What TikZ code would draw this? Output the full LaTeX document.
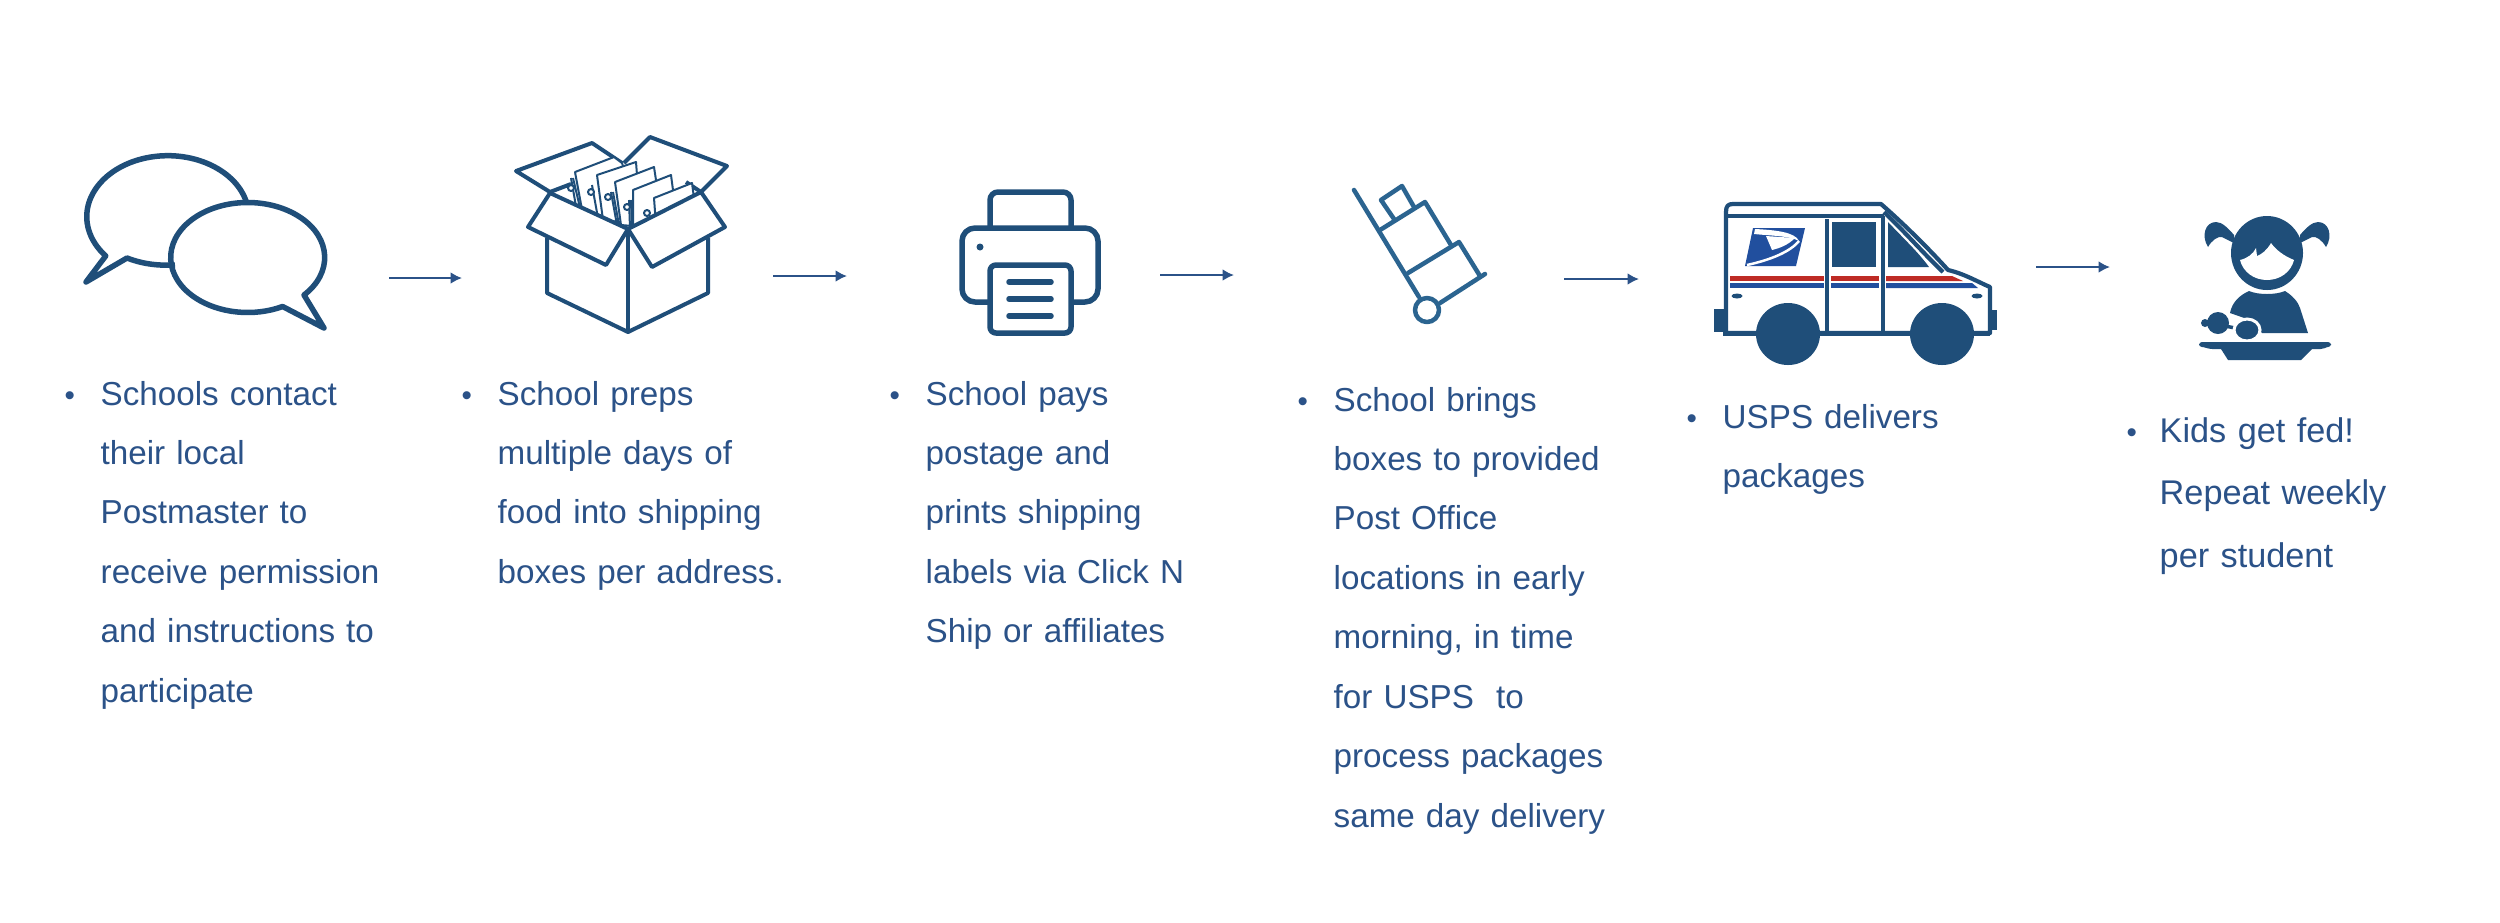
\documentclass[tikz,border=0pt]{standalone}
\usepackage{fontspec}
\setmainfont{Liberation Sans}
\usetikzlibrary{arrows.meta}
\definecolor{iconblue}{HTML}{1F4E79}
\definecolor{truckblue}{HTML}{2B6490}
\definecolor{textblue}{HTML}{2B5288}
\definecolor{logoblue}{HTML}{214F9E}
\definecolor{stripered}{HTML}{BE2B25}
\tikzset{
    steptext/.style={anchor=base west, inner sep=0pt, text width=38mm, align=left, text=textblue, font=\fontsize{9.45}{16.92}\selectfont},
    bulletmark/.style={anchor=base west, inner sep=0pt, text=textblue, font=\fontsize{8.4}{16.86}\selectfont},
    flowarrow/.style={draw=textblue, line width=0.25mm, -{Latex[length=1.15mm,width=1.2mm]}},
    iconline/.style={draw=iconblue, line width=0.55mm, line join=round},
    thinline/.style={draw=iconblue, line width=0.4mm, line join=round},
    bagline/.style={draw=iconblue, fill=white, line width=0.2mm, line join=round},
    truckline/.style={draw=truckblue, line width=0.45mm, line join=round, line cap=round},
    vanline/.style={draw=iconblue, line width=0.42mm, line join=round}
}
\begin{document}
\begin{tikzpicture}[x=0.1mm, y=0.1mm]
    \useasboundingbox (0,0) rectangle (2500,-922);
    \fill[white] (0,0) rectangle (2500,-922);

    \filldraw[iconline, fill=white] (247,-204) arc[start angle=12, end angle=220, x radius=81, y radius=61] -- (86,-282) -- (127,-258) .. controls (140,-263) and (155,-266) .. (175,-265);
    \draw[iconline] (304,-295) arc[start angle=-43, end angle=297, x radius=77, y radius=55] -- (324,-328) -- cycle;

    \filldraw[thinline, fill=white] (550,-192) -- (516,-171) -- (592,-143) -- (622,-163);
    \filldraw[thinline, fill=white] (624,-163) -- (650,-137) -- (727,-166) -- (701,-192);
    \draw[thinline] (550,-192) -- (571,-184);
    \draw[thinline] (701,-192) -- (686,-182);
    \filldraw[bagline] (575,-172) -- (614,-157) -- (622,-163) -- (640,-220) -- (583,-215) -- cycle;
    \filldraw[bagline] (597,-175) -- (636,-162) -- (637,-175) -- (645,-225) -- (603,-220) -- cycle;
    \filldraw[bagline] (615,-182) -- (654,-167) -- (656,-180) -- (655,-228) -- (621,-225) -- cycle;
    \filldraw[bagline] (633,-190) -- (671,-175) -- (673,-190) -- (665,-228) -- (633,-228) -- cycle;
    \filldraw[bagline] (654,-198) -- (692,-183) -- (694,-198) -- (665,-225) -- (656,-225) -- cycle;
    \draw[bagline] (571,-178) -- (577,-212);
    \draw[bagline] (573,-178) -- (581,-212);
    \draw[bagline] (592,-185) -- (598,-218);
    \draw[bagline] (611,-192) -- (617,-225);
    \draw[bagline] (613,-192) -- (619,-225);
    \draw[bagline] (629,-200) -- (630,-228);
    \draw[bagline] (631,-200) -- (632,-228);
    \filldraw[bagline] (571,-188) circle (3);
    \filldraw[bagline] (591,-192) circle (3);
    \filldraw[bagline] (608,-197) circle (3);
    \filldraw[bagline] (627,-207) circle (3);
    \filldraw[bagline] (647,-213) circle (3);
    \draw[thinline] (547,-238) -- (547,-293) -- (628,-332) -- (708,-293) -- (708,-238);
    \draw[thinline] (628,-229) -- (628,-332);
    \filldraw[thinline, fill=white] (550,-193) -- (528,-227) -- (606,-265) -- (628,-229) -- cycle;
    \filldraw[thinline, fill=white] (701,-192) -- (725,-227) -- (652,-267) -- (628,-229) -- cycle;

    \draw[iconline, rounded corners=0.8mm] (990,-228) -- (990,-192) -- (1071,-192) -- (1071,-228);
    \draw[iconline, rounded corners=1.3mm] (990,-302) -- (962,-302) -- (962,-228) -- (1098,-228) -- (1098,-302) -- (1071,-302);
    \filldraw[iconline, fill=white, rounded corners=0.6mm] (990,-265) -- (1071,-265) -- (1071,-333) -- (990,-333) -- cycle;
    \fill[iconblue] (980,-247) circle (3.5);
    \draw[iconline, line cap=round] (1009,-282) -- (1051,-282);
    \draw[iconline, line cap=round] (1009,-299) -- (1051,-299);
    \draw[iconline, line cap=round] (1009,-316) -- (1051,-316);

    \draw[truckline] (1354,-190) -- (1419,-297);
    \draw[truckline] (1427,-310) circle (12);
    \draw[truckline] (1440,-303) -- (1485,-274);
    \draw[truckline] (1408,-273) -- (1459,-242) -- (1480,-276);
    \draw[truckline] (1380,-230) -- (1425,-202) -- (1451,-245);
    \draw[truckline] (1394,-219) -- (1381,-200) -- (1402,-186) -- (1414,-207);

    \filldraw[iconblue] (1715,-310) rectangle (1726,-331);
    \filldraw[iconblue] (1988,-311) rectangle (1996,-329);
    \filldraw[vanline, fill=white] (1726,-333) -- (1726,-212) .. controls (1726,-206) and (1728,-204) .. (1733,-204) -- (1881,-204) .. controls (1905,-225) and (1930,-250) .. (1948,-270) .. controls (1965,-274) and (1978,-282) .. (1990,-287) -- (1990,-333) -- cycle;
    \draw[vanline] (1884,-212) .. controls (1905,-232) and (1925,-255) .. (1943,-272);
    \draw[vanline] (1726,-216) -- (1884,-216);
    \draw[vanline] (1827,-219) -- (1827,-333);
    \draw[vanline] (1883,-216) -- (1883,-333);
    \fill[iconblue] (1832,-222) rectangle (1876,-267);
    \fill[iconblue] (1888,-222) .. controls (1905,-240) and (1918,-252) .. (1929,-267) -- (1888,-267) -- cycle;
    \fill[logoblue] (1753,-228) -- (1805,-228) -- (1796,-266) -- (1745,-266) -- cycle;
    \fill[white] (1755,-229) .. controls (1775,-230) and (1795,-232) .. (1799,-241) .. controls (1790,-236) and (1775,-236) .. (1754,-234) -- cycle;
    \fill[white] (1766,-236) -- (1795,-238) .. controls (1788,-245) and (1780,-248) .. (1772,-250) -- cycle;
    \draw[white, line width=0.25mm] (1799,-241) .. controls (1790,-252) and (1770,-260) .. (1747,-265);
    \fill[stripered] (1730,-276) rectangle (1824,-281);
    \fill[stripered] (1831,-276) rectangle (1879,-281);
    \fill[stripered] (1886,-276) -- (1952,-276) -- (1963,-281) -- (1886,-281) -- cycle;
    \fill[logoblue] (1730,-283) rectangle (1824,-288);
    \fill[logoblue] (1831,-283) rectangle (1879,-288);
    \fill[logoblue] (1886,-283) -- (1972,-283) -- (1978,-288) -- (1886,-288) -- cycle;
    \fill[iconblue] (1737,-296) ellipse (5.5 and 2.5);
    \fill[iconblue] (1977,-296) ellipse (5.5 and 2.5);
    \fill[iconblue] (1788,-334) ellipse (32 and 31);
    \fill[iconblue] (1942,-334) ellipse (32 and 31);
    \draw[iconblue, line width=0.5mm] (1723,-333) -- (1990,-333);

    \fill[iconblue] (2267,-253) ellipse (36 and 37);
    \fill[iconblue] (2234,-235) .. controls (2228,-228) and (2222,-222) .. (2216,-222) .. controls (2205,-222) and (2201,-236) .. (2208,-247) .. controls (2212,-240) and (2218,-236) .. (2222,-237) -- (2234,-243) -- cycle;
    \fill[iconblue] (2300,-235) .. controls (2306,-228) and (2312,-222) .. (2318,-222) .. controls (2329,-222) and (2333,-236) .. (2326,-247) .. controls (2322,-240) and (2316,-236) .. (2312,-237) -- (2300,-243) -- cycle;
    \fill[white] (2240,-260) .. controls (2243,-272) and (2254,-280) .. (2267,-280) .. controls (2280,-280) and (2291,-272) .. (2294,-260) .. controls (2284,-256) and (2276,-250) .. (2271,-243) .. controls (2267,-250) and (2262,-254) .. (2257,-256) -- (2256,-248) .. controls (2253,-254) and (2248,-258) .. (2240,-260) -- cycle;
    \fill[iconblue] (2230,-313) .. controls (2232,-302) and (2240,-295) .. (2249,-291) .. controls (2258,-295) and (2276,-295) .. (2285,-291) .. controls (2293,-296) and (2298,-302) .. (2300,-308) -- (2308,-333) -- (2262,-333) -- (2250,-320) -- cycle;
    \fill[iconblue] (2218,-323) ellipse (11 and 11);
    \fill[iconblue] (2205,-323) ellipse (4 and 4);
    \draw[iconblue, line width=0.35mm] (2225,-326) -- (2250,-331);
    \filldraw[fill=iconblue, draw=white, line width=0.3mm] (2247,-330) ellipse (13 and 11);
    \fill[iconblue, rounded corners=0.3mm] (2199,-342) rectangle (2331,-347);
    \fill[iconblue] (2201,-346) .. controls (2210,-350) and (2215,-349) .. (2221,-349) -- (2228,-360) -- (2301,-360) -- (2312,-349) .. controls (2318,-349) and (2323,-350) .. (2329,-346) -- cycle;

    \coordinate (contactEnd) at (389,-278);
    \coordinate (prepStart) at (462,-278);
    \coordinate (prepEnd) at (773,-276);
    \coordinate (printStart) at (847,-276);
    \coordinate (printEnd) at (1160,-275);
    \coordinate (truckStart) at (1234,-275);
    \coordinate (truckEnd) at (1564,-279);
    \coordinate (vanStart) at (1639,-279);
    \coordinate (vanEnd) at (2036,-267);
    \coordinate (girlStart) at (2110,-267);
    \draw[flowarrow] (contactEnd) -- (prepStart);
    \draw[flowarrow] (prepEnd) -- (printStart);
    \draw[flowarrow] (printEnd) -- (truckStart);
    \draw[flowarrow] (truckEnd) -- (vanStart);
    \draw[flowarrow] (vanEnd) -- (girlStart);

    \node[bulletmark] (contactBullet) at (64,-405) {•};
    \node[steptext] (contactText) at (100,-405) {Schools contact\\their local\\Postmaster to\\receive permission\\and instructions to\\participate};
    \node[bulletmark] (prepBullet) at (461,-405) {•};
    \node[steptext] (prepText) at (497,-405) {School preps\\multiple days of\\food into shipping\\boxes per address.};
    \node[bulletmark] (printBullet) at (889,-405) {•};
    \node[steptext] (printText) at (925,-405) {School pays\\postage and\\prints shipping\\labels via Click N\\Ship or affiliates};
    \node[bulletmark] (truckBullet) at (1297,-411) {•};
    \node[steptext] (truckText) at (1333,-411) {School brings\\boxes to provided\\Post Office\\locations in early\\morning, in time\\for USPS\ \ to\\process packages\\same day delivery};
    \node[bulletmark] (vanBullet) at (1686,-428) {•};
    \node[steptext] (vanText) at (1722,-428) {USPS delivers\\packages};
    \node[bulletmark] (girlBullet) at (2126,-442) {•};
    \node[steptext, font=\fontsize{9.75}{17.9}\selectfont] (girlText) at (2159,-442) {Kids get fed!\\Repeat weekly\\per student};
\end{tikzpicture}
\end{document}
